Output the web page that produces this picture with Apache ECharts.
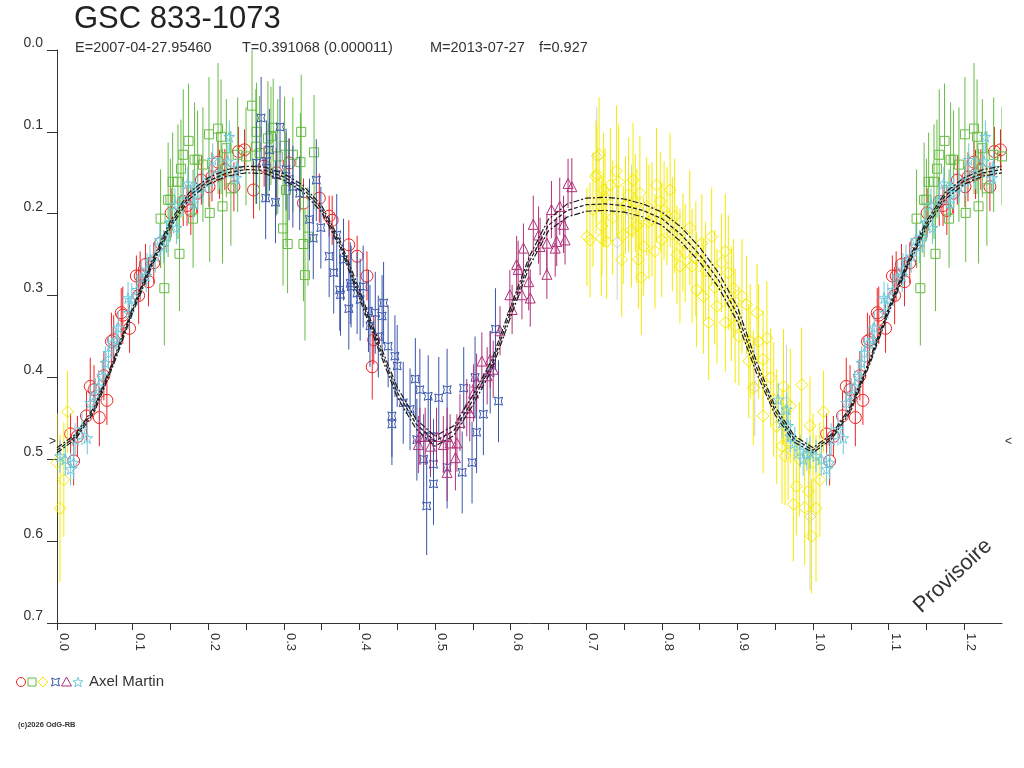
<!doctype html>
<html lang="fr">
<head>
    <meta charset="UTF-8">
    <title>GSC 833-1073</title>
    <script type="text/javascript" src="https://cdn.jsdelivr.net/npm/echarts@6.0.0/dist/echarts.min.js"></script>
    <style>
        html, body { margin: 0; padding: 0; background: #fff; }
        #main { width: 1024px; height: 768px; }
    </style>
</head>
<body>
<div id="main"></div>
<script>
    // points : [phase, magnitude, erreur]
    var redPts = [[0.018,0.469,0.025],[0.022,0.502,0.03],[0.027,0.472,0.025],[0.039,0.447,0.03],[0.044,0.411,0.035],[0.049,0.415,0.03],[0.056,0.449,0.035],[0.062,0.398,0.03],[0.066,0.428,0.03],[0.072,0.356,0.035],[0.075,0.354,0.03],[0.085,0.321,0.03],[0.087,0.324,0.035],[0.096,0.340,0.03],[0.105,0.276,0.025],[0.108,0.300,0.035],[0.110,0.276,0.03],[0.117,0.262,0.025],[0.121,0.283,0.03],[0.128,0.260,0.025],[0.137,0.236,0.03],[0.151,0.199,0.03],[0.167,0.185,0.03],[0.172,0.190,0.025],[0.177,0.196,0.03],[0.186,0.175,0.025],[0.191,0.159,0.03],[0.201,0.167,0.025],[0.205,0.155,0.03],[0.213,0.137,0.025],[0.215,0.152,0.03],[0.222,0.146,0.025],[0.234,0.167,0.03],[0.240,0.124,0.03],[0.248,0.122,0.025],[0.260,0.171,0.035],[0.274,0.142,0.025],[0.290,0.150,0.03],[0.307,0.138,0.03],[0.326,0.187,0.03],[0.347,0.181,0.03],[0.360,0.203,0.025],[0.364,0.208,0.03],[0.386,0.238,0.03],[0.397,0.252,0.025],[0.410,0.276,0.03],[0.417,0.387,0.04],[0.419,0.354,0.03]];
    var greenPts = [[0.137,0.206,0.06],[0.142,0.291,0.07],[0.147,0.183,0.07],[0.150,0.183,0.05],[0.153,0.161,0.06],[0.160,0.161,0.07],[0.162,0.249,0.07],[0.164,0.145,0.06],[0.167,0.128,0.08],[0.174,0.111,0.07],[0.180,0.206,0.06],[0.182,0.134,0.07],[0.186,0.134,0.06],[0.193,0.140,0.07],[0.201,0.103,0.07],[0.202,0.199,0.06],[0.213,0.096,0.08],[0.217,0.106,0.07],[0.219,0.191,0.07],[0.224,0.120,0.06],[0.230,0.169,0.07],[0.239,0.128,0.07],[0.250,0.130,0.06],[0.258,0.068,0.08],[0.263,0.118,0.07],[0.264,0.100,0.06],[0.268,0.126,0.07],[0.279,0.108,0.07],[0.283,0.105,0.06],[0.286,0.095,0.06],[0.292,0.130,0.07],[0.299,0.218,0.07],[0.301,0.117,0.06],[0.303,0.171,0.07],[0.305,0.237,0.06],[0.312,0.128,0.07],[0.322,0.137,0.06],[0.323,0.100,0.07],[0.326,0.237,0.07],[0.328,0.275,0.08],[0.332,0.228,0.06],[0.340,0.125,0.07]];
    var yellowPts = [[0.000,0.504,0.06],[0.004,0.560,0.09],[0.009,0.525,0.07],[0.014,0.442,0.05],[0.701,0.228,0.06],[0.705,0.232,0.07],[0.709,0.195,0.07],[0.713,0.155,0.07],[0.714,0.152,0.06],[0.717,0.128,0.07],[0.720,0.230,0.07],[0.721,0.215,0.06],[0.723,0.171,0.07],[0.725,0.180,0.06],[0.727,0.234,0.07],[0.732,0.165,0.07],[0.735,0.205,0.07],[0.740,0.148,0.08],[0.743,0.161,0.07],[0.747,0.256,0.07],[0.749,0.226,0.06],[0.752,0.190,0.06],[0.756,0.177,0.07],[0.760,0.220,0.07],[0.762,0.159,0.07],[0.765,0.187,0.06],[0.767,0.215,0.07],[0.769,0.256,0.06],[0.771,0.175,0.07],[0.773,0.278,0.07],[0.776,0.240,0.06],[0.780,0.191,0.06],[0.783,0.210,0.07],[0.787,0.207,0.07],[0.791,0.246,0.07],[0.793,0.165,0.07],[0.798,0.185,0.06],[0.800,0.232,0.07],[0.803,0.196,0.06],[0.807,0.203,0.06],[0.811,0.171,0.07],[0.814,0.225,0.07],[0.817,0.203,0.07],[0.820,0.250,0.06],[0.824,0.264,0.07],[0.828,0.235,0.06],[0.831,0.248,0.06],[0.837,0.217,0.07],[0.840,0.264,0.07],[0.845,0.255,0.07],[0.846,0.293,0.07],[0.853,0.236,0.06],[0.855,0.301,0.07],[0.858,0.270,0.06],[0.862,0.333,0.07],[0.866,0.228,0.06],[0.870,0.290,0.07],[0.873,0.313,0.07],[0.879,0.260,0.06],[0.884,0.246,0.07],[0.884,0.333,0.06],[0.888,0.272,0.07],[0.892,0.310,0.07],[0.895,0.291,0.06],[0.897,0.337,0.07],[0.902,0.350,0.06],[0.906,0.301,0.07],[0.912,0.311,0.06],[0.915,0.380,0.07],[0.917,0.356,0.07],[0.921,0.413,0.07],[0.926,0.321,0.06],[0.928,0.356,0.07],[0.934,0.378,0.06],[0.934,0.447,0.07],[0.939,0.352,0.07],[0.944,0.400,0.06],[0.948,0.427,0.07],[0.952,0.460,0.07],[0.959,0.484,0.07],[0.961,0.411,0.07],[0.963,0.496,0.06],[0.967,0.480,0.07],[0.970,0.435,0.07],[0.974,0.555,0.07],[0.978,0.533,0.06],[0.982,0.500,0.07],[0.985,0.409,0.07],[0.989,0.559,0.07],[0.994,0.539,0.06],[0.996,0.459,0.06],[0.998,0.594,0.07]];
    var bluePts = [[0.264,0.138,0.05],[0.270,0.083,0.05],[0.276,0.181,0.05],[0.277,0.136,0.05],[0.281,0.122,0.05],[0.289,0.186,0.05],[0.290,0.152,0.05],[0.295,0.094,0.05],[0.303,0.146,0.05],[0.307,0.158,0.05],[0.312,0.167,0.05],[0.321,0.175,0.045],[0.334,0.207,0.05],[0.339,0.230,0.05],[0.343,0.159,0.05],[0.349,0.217,0.05],[0.360,0.252,0.05],[0.366,0.272,0.05],[0.370,0.226,0.05],[0.374,0.293,0.05],[0.375,0.299,0.05],[0.379,0.256,0.05],[0.386,0.316,0.05],[0.388,0.285,0.05],[0.389,0.289,0.05],[0.397,0.297,0.05],[0.401,0.305,0.05],[0.405,0.289,0.05],[0.412,0.319,0.05],[0.414,0.337,0.05],[0.421,0.321,0.05],[0.425,0.350,0.05],[0.430,0.325,0.05],[0.432,0.309,0.05],[0.438,0.362,0.05],[0.443,0.447,0.05],[0.443,0.457,0.05],[0.447,0.374,0.05],[0.450,0.386,0.05],[0.458,0.431,0.05],[0.467,0.439,0.05],[0.474,0.402,0.05],[0.476,0.476,0.05],[0.480,0.415,0.05],[0.485,0.500,0.055],[0.489,0.557,0.06],[0.491,0.423,0.05],[0.494,0.472,0.05],[0.498,0.506,0.055],[0.498,0.530,0.05],[0.505,0.425,0.05],[0.516,0.415,0.05],[0.516,0.510,0.05],[0.536,0.516,0.05],[0.538,0.413,0.05],[0.549,0.504,0.05],[0.553,0.400,0.05],[0.555,0.467,0.05],[0.564,0.445,0.05],[0.573,0.394,0.05],[0.580,0.341,0.05],[0.584,0.429,0.05]];
    var magentaPts = [[0.478,0.482,0.035],[0.480,0.472,0.035],[0.487,0.472,0.035],[0.494,0.484,0.035],[0.502,0.472,0.035],[0.511,0.482,0.035],[0.516,0.516,0.035],[0.516,0.472,0.035],[0.520,0.480,0.035],[0.527,0.498,0.04],[0.529,0.480,0.035],[0.533,0.455,0.035],[0.542,0.437,0.035],[0.546,0.443,0.035],[0.551,0.419,0.035],[0.555,0.406,0.035],[0.562,0.380,0.035],[0.569,0.398,0.035],[0.573,0.378,0.035],[0.577,0.390,0.035],[0.586,0.343,0.03],[0.599,0.299,0.03],[0.602,0.317,0.03],[0.608,0.262,0.035],[0.610,0.268,0.035],[0.615,0.299,0.03],[0.617,0.242,0.03],[0.624,0.283,0.035],[0.626,0.303,0.035],[0.630,0.213,0.035],[0.637,0.226,0.035],[0.639,0.240,0.035],[0.648,0.236,0.035],[0.648,0.274,0.03],[0.654,0.195,0.035],[0.659,0.242,0.035],[0.661,0.234,0.03],[0.665,0.191,0.035],[0.670,0.213,0.035],[0.672,0.232,0.03],[0.676,0.163,0.03],[0.681,0.167,0.035]];
    var cyanPts = [[0.004,0.496,0.02],[0.011,0.500,0.02],[0.018,0.512,0.02],[0.022,0.504,0.02],[0.024,0.476,0.02],[0.033,0.463,0.02],[0.040,0.474,0.02],[0.044,0.431,0.02],[0.051,0.421,0.02],[0.055,0.411,0.02],[0.060,0.398,0.02],[0.064,0.382,0.02],[0.068,0.370,0.02],[0.073,0.358,0.02],[0.079,0.354,0.02],[0.081,0.339,0.02],[0.094,0.303,0.02],[0.095,0.321,0.02],[0.099,0.305,0.02],[0.106,0.293,0.02],[0.112,0.278,0.02],[0.118,0.276,0.02],[0.119,0.268,0.02],[0.123,0.258,0.02],[0.130,0.252,0.02],[0.136,0.232,0.02],[0.141,0.240,0.02],[0.145,0.228,0.02],[0.149,0.211,0.02],[0.156,0.189,0.02],[0.158,0.217,0.02],[0.167,0.183,0.02],[0.173,0.163,0.02],[0.180,0.187,0.02],[0.182,0.167,0.02],[0.186,0.175,0.02],[0.193,0.167,0.02],[0.202,0.159,0.02],[0.206,0.134,0.02],[0.215,0.150,0.02],[0.226,0.136,0.02],[0.228,0.106,0.02],[0.237,0.156,0.02],[0.239,0.144,0.02],[0.954,0.427,0.02],[0.959,0.455,0.02],[0.965,0.439,0.02],[0.967,0.459,0.02],[0.970,0.472,0.02],[0.976,0.480,0.02],[0.983,0.490,0.02],[0.987,0.500,0.02],[0.992,0.494,0.02],[0.996,0.492,0.02]];
    var grayPts = [[0.714,0.130,0.06],[0.741,0.235,0.07],[0.760,0.200,0.06],[0.923,0.412,0.06],[0.965,0.430,0.07],[0.996,0.570,0.09]];

    // courbe ajustee (milieu et enveloppe)
    var fitPhase = [0.000,0.025,0.050,0.075,0.100,0.125,0.150,0.175,0.200,0.225,0.250,0.275,0.300,0.325,0.350,0.375,0.400,0.425,0.450,0.475,0.500,0.525,0.550,0.575,0.600,0.625,0.650,0.675,0.700,0.725,0.750,0.775,0.800,0.825,0.850,0.875,0.900,0.925,0.950,0.975,1.000];
    var fitMid = [0.489,0.472,0.438,0.381,0.318,0.262,0.213,0.178,0.160,0.150,0.146,0.147,0.155,0.169,0.194,0.238,0.298,0.360,0.418,0.457,0.478,0.465,0.428,0.385,0.320,0.258,0.214,0.196,0.189,0.188,0.190,0.196,0.206,0.225,0.250,0.281,0.323,0.387,0.441,0.475,0.489];
    var fitUp = [0.486,0.469,0.435,0.378,0.315,0.259,0.209,0.174,0.156,0.146,0.142,0.143,0.151,0.165,0.190,0.234,0.293,0.355,0.412,0.451,0.472,0.459,0.422,0.379,0.314,0.252,0.207,0.188,0.181,0.180,0.182,0.188,0.198,0.216,0.241,0.272,0.314,0.380,0.436,0.471,0.486];
    var fitLo = [0.492,0.475,0.441,0.384,0.321,0.265,0.217,0.182,0.164,0.154,0.150,0.151,0.159,0.173,0.198,0.242,0.303,0.365,0.424,0.463,0.484,0.471,0.434,0.391,0.326,0.264,0.221,0.204,0.197,0.196,0.198,0.204,0.214,0.234,0.259,0.290,0.332,0.394,0.446,0.479,0.492];

    var markMag = 0.478; // reperes > <
    var phaseMax = 1.25;

    var FONT = '"Liberation Sans", Arial, sans-serif';
    var starPath = 'path://M50,0 L61,35 L98,35 L68,57 L79,91 L50,70 L21,91 L32,57 L2,35 L39,35 Z';
    var bowPath = 'path://M0,0 Q50,30 100,0 Q70,50 100,100 Q50,70 0,100 Q30,50 0,0 Z';
    var RED = '#ee2222', GREEN = '#66bb44', YELLOW = '#f5ea00', BLUE = '#3a55aa', MAG = '#b0307a', CYAN = '#6cc8dc';

    //repete la phase 0..0.25 apres 1
    function wrap(pts) {
        var out = pts.slice();
        pts.forEach(function (p) {
            if (p[0] + 1 <= phaseMax) out.push([p[0] + 1].concat(p.slice(1)));
        });
        return out;
    }
    function fitLine(mags) {
        var d = fitPhase.map(function (p, i) { return [p, mags[i]]; });
        fitPhase.forEach(function (p, i) {
            if (p > 0 && p + 1 <= phaseMax) d.push([p + 1, mags[i]]);
        });
        return d;
    }

    var groups = [
        {name: 'gris', pts: grayPts, color: '#cfcfcf', symbol: 'diamond', size: 11},
        {name: 'rouge', pts: redPts, color: RED, symbol: 'circle', size: 12},
        {name: 'vert', pts: greenPts, color: GREEN, symbol: 'rect', size: 9},
        {name: 'jaune', pts: yellowPts, color: YELLOW, symbol: 'diamond', size: 12},
        {name: 'bleu', pts: bluePts, color: BLUE, symbol: bowPath, size: 8},
        {name: 'magenta', pts: magentaPts, color: MAG, symbol: 'triangle', size: 10},
        {name: 'cyan', pts: cyanPts, color: CYAN, symbol: starPath, size: 11}
    ];

    var series = [];
    groups.forEach(function (g, k) {
        var col = g.color;
        series.push({
            type: 'custom', name: g.name + '-err', data: wrap(g.pts), z: 2 + k * 2, silent: true, clip: true,
            encode: {x: 0, y: 1},
            renderItem: function (params, api) {
                var ph = api.value(0), m = api.value(1), e = api.value(2);
                var a = api.coord([ph, m - e]), b = api.coord([ph, m + e]);
                return {type: 'line', shape: {x1: a[0], y1: a[1], x2: b[0], y2: b[1]},
                    style: {stroke: col, lineWidth: 1}};
            }
        });
        series.push({
            type: 'scatter', name: g.name, z: 3 + k * 2, silent: true,
            data: wrap(g.pts).map(function (p) { return [p[0], p[1]]; }),
            symbol: g.symbol, symbolSize: g.size,
            itemStyle: {color: 'rgba(255,255,255,0)', borderColor: col, borderWidth: 1, opacity: 1}
        });
    });
    [[fitUp, [6, 2, 2, 2]], [fitMid, [4, 2]], [fitLo, [6, 2, 2, 2]]].forEach(function (f) {
        series.push({
            type: 'line', data: fitLine(f[0]), showSymbol: false, silent: true, z: 30,
            lineStyle: {color: '#1a1a1a', width: 1.2, type: f[1]}
        });
    });

    var chart = echarts.init(document.getElementById('main'));
    chart.setOption({
        animation: false,
        backgroundColor: '#fff',
        grid: {left: 57, right: 22, top: 50, bottom: 145},
        xAxis: {
            type: 'value', min: 0, max: phaseMax, interval: 0.05,
            axisLine: {show: true, onZero: false, lineStyle: {color: '#333', width: 1}},
            axisTick: {show: true, length: 7, lineStyle: {color: '#333'}},
            splitLine: {show: false},
            axisLabel: {
                rotate: -90, margin: 10, interval: 0, color: '#333', fontSize: 13, fontFamily: FONT,
                verticalAlign: 'bottom', showMaxLabel: false,
                formatter: function (v) {
                    var t = v * 10;
                    if (Math.abs(t - Math.round(t)) > 1e-6) return '';
                    return v.toFixed(1);
                }
            }
        },
        yAxis: {
            type: 'value', inverse: true, min: 0, max: 0.7, interval: 0.1,
            axisLine: {show: true, onZero: false, lineStyle: {color: '#333', width: 1}},
            axisTick: {show: true, length: 10, lineStyle: {color: '#333'}},
            splitLine: {show: false},
            axisLabel: {
                margin: 14, color: '#333', fontSize: 14, fontFamily: FONT, verticalAlign: 'bottom',
                formatter: function (v) { return v.toFixed(1); }
            }
        },
        series: series
    });

    // textes, legende, reperes
    var p0 = chart.convertToPixel({gridIndex: 0}, [0, markMag]);
    var p1 = chart.convertToPixel({gridIndex: 0}, [phaseMax, markMag]);
    function subText(x, s) {
        return {type: 'text', x: x, y: 48, style: {text: s, fill: '#333', fontSize: 14.5, fontFamily: FONT, verticalAlign: 'middle'}};
    }
    function stroke(c) { return {fill: 'none', stroke: c, lineWidth: 1}; }
    var starPts = [];
    for (var i = 0; i < 10; i++) {
        var r = i % 2 ? 2.2 : 5.3, a = -Math.PI / 2 + i * Math.PI / 5;
        starPts.push([78 + r * Math.cos(a), 682.5 + r * Math.sin(a)]);
    }
    chart.setOption({
        graphic: [
            {type: 'text', x: 74, y: 19, style: {text: 'GSC 833-1073', fill: '#222', fontSize: 31, fontFamily: FONT, verticalAlign: 'middle'}},
            subText(75, 'E=2007-04-27.95460'),
            subText(242, 'T=0.391068 (0.000011)'),
            subText(430, 'M=2013-07-27'),
            subText(539, 'f=0.927'),
            {type: 'text', x: p0[0] - 1, y: p0[1], style: {text: '>', fill: '#333', fontSize: 12, fontFamily: FONT, align: 'right', verticalAlign: 'middle'}},
            {type: 'text', x: p1[0] + 3, y: p1[1], style: {text: '<', fill: '#333', fontSize: 12, fontFamily: FONT, align: 'left', verticalAlign: 'middle'}},
            {type: 'text', x: 953, y: 576, rotation: 0.75, style: {text: 'Provisoire', fill: '#333', fontSize: 22, fontFamily: FONT, align: 'center', verticalAlign: 'middle'}},
            // legende
            {type: 'circle', shape: {cx: 21, cy: 682, r: 4.5}, style: stroke(RED)},
            {type: 'rect', shape: {x: 28, y: 678, width: 8, height: 8}, style: stroke(GREEN)},
            {type: 'polygon', shape: {points: [[43, 677], [48, 682], [43, 687], [38, 682]]}, style: stroke(YELLOW)},
            {type: 'polygon', shape: {points: [[51.5, 678], [55.5, 679.5], [59.5, 678], [58, 682], [59.5, 686], [55.5, 684.5], [51.5, 686], [53, 682]]}, style: stroke(BLUE)},
            {type: 'polygon', shape: {points: [[66.5, 677], [71.5, 686], [61.5, 686]]}, style: stroke(MAG)},
            {type: 'polygon', shape: {points: starPts}, style: stroke(CYAN)},
            {type: 'text', x: 89, y: 682, style: {text: 'Axel Martin', fill: '#333', fontSize: 15, fontFamily: FONT, verticalAlign: 'middle'}},
            {type: 'text', x: 18, y: 725, style: {text: '(c)2026 OdG-RB', fill: '#333', fontSize: 7.5, fontWeight: 'bold', fontFamily: FONT, verticalAlign: 'middle'}}
        ]
    });
</script>
</body>
</html>
